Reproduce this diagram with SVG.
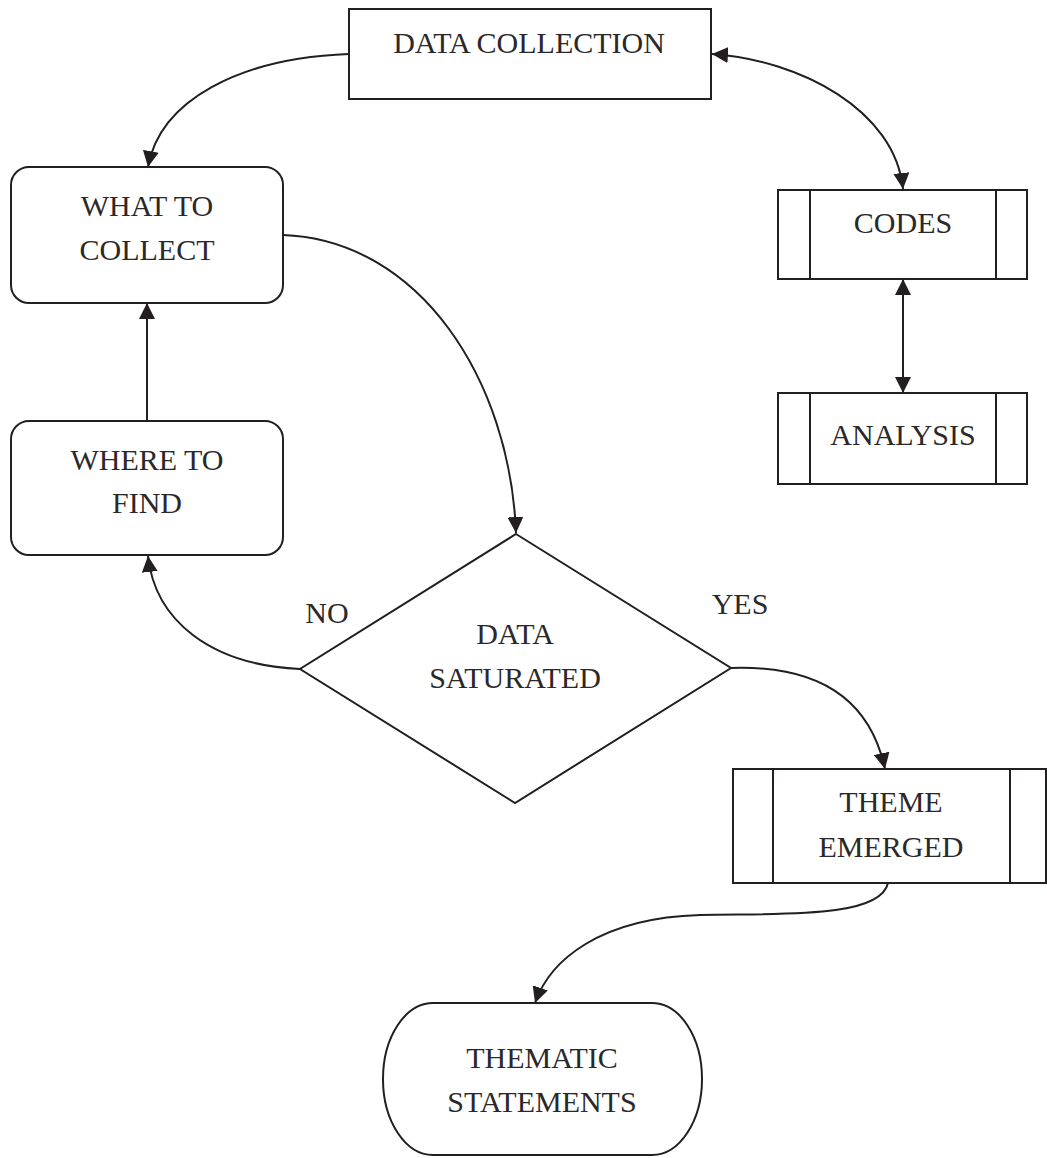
<svg xmlns="http://www.w3.org/2000/svg" width="1047" height="1158" viewBox="0 0 1047 1158">
<style>
.s{fill:#fff;stroke:#231f20;stroke-width:2}
.l{fill:none;stroke:#231f20;stroke-width:2}
.t{font-family:"Liberation Serif",serif;font-size:30px;fill:#2b2829;text-anchor:middle}
.c{fill:none;stroke:#231f20;stroke-width:2}
</style>
<defs>
<marker id="b" viewBox="0 0 10 10" refX="10" refY="5" markerWidth="16" markerHeight="16" markerUnits="userSpaceOnUse" orient="auto-start-reverse"><path d="M0,0 L10,5 L0,10 z" fill="#231f20"/></marker>
</defs>
<g id="connectors">
<path class="c" d="M349,54 C240,58 160,100 148,167" marker-end="url(#b)"/>
<path class="c" d="M712,54 C800,60 895,110 903,189" marker-start="url(#b)" marker-end="url(#b)"/>
<path class="c" d="M903,279 L903,393" marker-start="url(#b)" marker-end="url(#b)"/>
<path class="c" d="M283,235 C420,240 510,380 516,533" marker-end="url(#b)"/>
<path class="c" d="M147,421 L147,303" marker-end="url(#b)"/>
<path class="c" d="M300,669 C210,665 155,620 148,556" marker-end="url(#b)"/>
<path class="c" d="M731,668 C820,665 870,700 885,769" marker-end="url(#b)"/>
<path class="c" d="M888,883 C880,920 770,913 700,915 C600,918 550,960 535,1003" marker-end="url(#b)"/>
</g>
<g id="data-collection">
<rect class="s" x="349" y="9" width="362" height="90"/>
<text class="t" x="529" y="53">DATA COLLECTION</text>
</g>
<g id="codes">
<rect class="s" x="778" y="190" width="249" height="89"/>
<line class="l" x1="810" y1="190" x2="810" y2="279"/>
<line class="l" x1="996" y1="190" x2="996" y2="279"/>
<text class="t" x="903" y="233">CODES</text>
</g>
<g id="analysis">
<rect class="s" x="778" y="393" width="249" height="91"/>
<line class="l" x1="810" y1="393" x2="810" y2="484"/>
<line class="l" x1="996" y1="393" x2="996" y2="484"/>
<text class="t" x="903" y="445">ANALYSIS</text>
</g>
<g id="what-to-collect">
<rect class="s" x="11" y="167" width="272" height="136" rx="18" ry="18"/>
<text class="t" x="147" y="216">WHAT TO</text>
<text class="t" x="147" y="260">COLLECT</text>
</g>
<g id="where-to-find">
<rect class="s" x="11" y="421" width="272" height="134" rx="18" ry="18"/>
<text class="t" x="147" y="470">WHERE TO</text>
<text class="t" x="147" y="513">FIND</text>
</g>
<g id="data-saturated">
<polygon class="s" points="516,534 731,668 515,803 300,669"/>
<text class="t" x="515" y="644">DATA</text>
<text class="t" x="515" y="688">SATURATED</text>
</g>
<g id="labels">
<text class="t" x="327" y="623">NO</text>
<text class="t" x="740" y="614">YES</text>
</g>
<g id="theme-emerged">
<rect class="s" x="733" y="769" width="313" height="114"/>
<line class="l" x1="773" y1="769" x2="773" y2="883"/>
<line class="l" x1="1010" y1="769" x2="1010" y2="883"/>
<text class="t" x="891" y="812">THEME</text>
<text class="t" x="891" y="857">EMERGED</text>
</g>
<g id="thematic-statements">
<rect class="s" x="383" y="1003" width="319" height="152" rx="50" ry="76"/>
<text class="t" x="542" y="1068">THEMATIC</text>
<text class="t" x="542" y="1112">STATEMENTS</text>
</g>
</svg>
